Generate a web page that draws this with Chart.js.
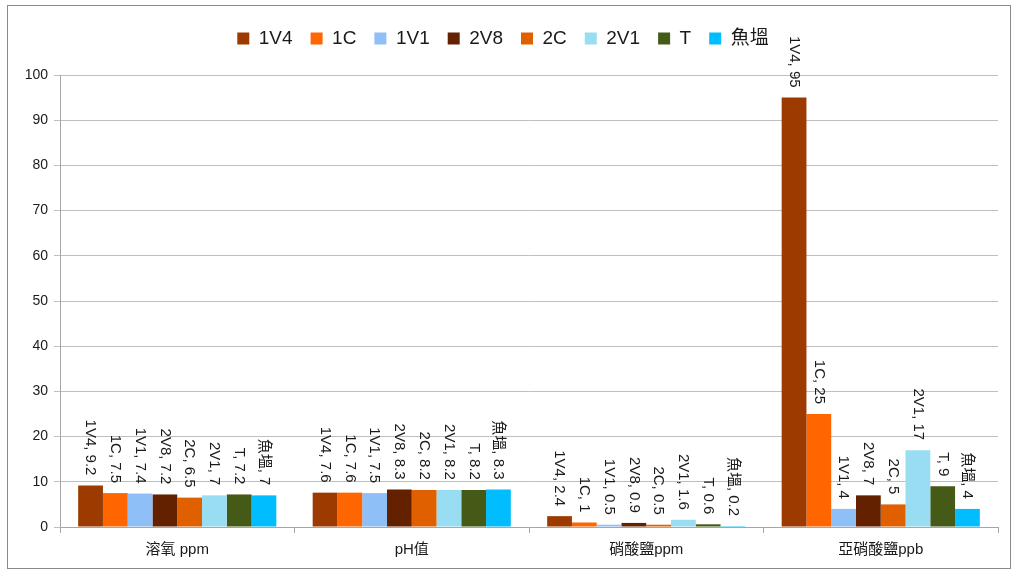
<!DOCTYPE html>
<html>
<head>
<meta charset="utf-8">
<script src="https://cdn.jsdelivr.net/npm/chart.js@4.4.0/dist/chart.umd.min.js"></script>
<style>
  html, body { margin: 0; padding: 0; background: #fff; }
  #wrap { position: absolute; left: 7px; top: 5px; width: 1002px; height: 562px; border: 1.5px solid #8a8a8a; }
  canvas { display: block; }
</style>
</head>
<body>
<div id="wrap"><canvas id="c" width="1002" height="562"></canvas></div>
<script>
// 水質數據
const categories = ['溶氧 ppm', 'pH值', '硝酸鹽ppm', '亞硝酸鹽ppb'];
const seriesNames = ['1V4', '1C', '1V1', '2V8', '2C', '2V1', 'T', '魚塭'];
const seriesColors = ['#9C3A00', '#FF6600', '#8FBFF7', '#632100', '#E06000', '#99DDF2', '#445A16', '#00BDFF'];
const v1V4 = [9.2, 7.6, 2.4, 95];
const v1C  = [7.5, 7.6, 1, 25];
const v1V1 = [7.4, 7.5, 0.5, 4];
const v2V8 = [7.2, 8.3, 0.9, 7];
const v2C  = [6.5, 8.2, 0.5, 5];
const v2V1 = [7, 8.2, 1.6, 17];
const vT   = [7.2, 8.2, 0.6, 9];
const vFish = [7, 8.3, 0.2, 4];
const allValues = [v1V4, v1C, v1V1, v2V8, v2C, v2V1, vT, vFish];
const yTicks = [0, 10, 20, 30, 40, 50, 60, 70, 80, 90, 100];

const FONT = '"Liberation Sans", "Noto Sans CJK TC", sans-serif';

// 圖例下方留白
const legendGap = {
  id: 'legendGap',
  beforeInit(chart) {
    const fit = chart.legend.fit;
    chart.legend.fit = function () { fit.bind(chart.legend)(); this.height += 17; };
  }
};

const barLabels = {
  id: 'barLabels',
  afterDatasetsDraw(chart) {
    const ctx = chart.ctx;
    ctx.save();
    ctx.font = '15px ' + FONT;
    ctx.fillStyle = '#1a1a1a';
    ctx.textAlign = 'right';
    ctx.textBaseline = 'middle';
    chart.data.datasets.forEach((ds, i) => {
      chart.getDatasetMeta(i).data.forEach((el, j) => {
        ctx.save();
        ctx.translate(el.x, el.y - 10);
        ctx.rotate(Math.PI / 2);
        ctx.fillText(ds.label + ', ' + ds.data[j], 0, 0);
        ctx.restore();
      });
    });
    ctx.restore();
  }
};

new Chart(document.getElementById('c'), {
  type: 'bar',
  data: {
    labels: categories,
    datasets: seriesNames.map((n, i) => ({
      label: n,
      data: allValues[i],
      backgroundColor: seriesColors[i],
      borderWidth: 0,
      barPercentage: 1,
      categoryPercentage: 0.845
    }))
  },
  options: {
    animation: false,
    responsive: false,
    maintainAspectRatio: false,
    layout: { padding: { left: 0, right: 12, top: 5, bottom: 0 } },
    plugins: {
      legend: {
        position: 'top',
        labels: { boxWidth: 12, boxHeight: 12, padding: 18, color: '#1a1a1a', font: { size: 19, family: FONT } }
      },
      tooltip: { enabled: false }
    },
    scales: {
      x: {
        grid: { offset: true, drawOnChartArea: false, drawTicks: true, tickLength: 6, color: '#a6a6a6' },
        border: { color: '#a6a6a6' },
        ticks: { color: '#1a1a1a', font: { size: 15, family: FONT }, padding: 8 },
        afterFit(s) { s.height = 41; }
      },
      y: {
        min: 0, max: 100,
        afterBuildTicks(s) { s.ticks = yTicks.map(v => ({ value: v })); },
        grid: { color: '#bfbfbf', tickLength: 6 },
        border: { color: '#a6a6a6' },
        ticks: { color: '#1a1a1a', font: { size: 14, family: FONT }, padding: 6 },
        afterFit(s) { s.width = 52; }
      }
    }
  },
  plugins: [legendGap, barLabels]
});
</script>
</body>
</html>
